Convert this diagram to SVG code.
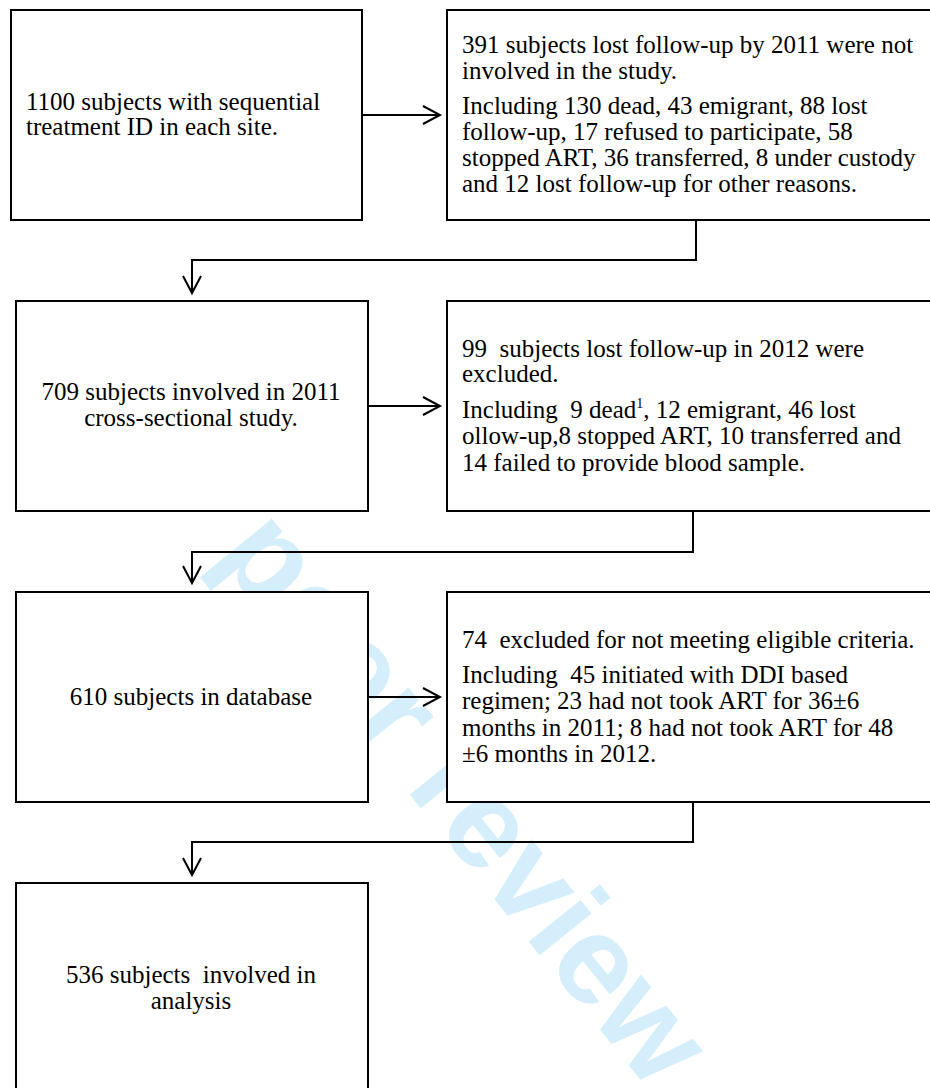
<svg xmlns="http://www.w3.org/2000/svg" width="930" height="1088" viewBox="0 0 930 1088">
<style>
.bx{fill:#fff;stroke:#000;stroke-width:2}
.t{font-family:"Liberation Serif","Times New Roman",serif;font-size:25px;fill:#000;white-space:pre}
.c{text-anchor:middle}
.cn{fill:none;stroke:#000;stroke-width:2}
.wm{font-family:"Liberation Sans",Arial,sans-serif;font-weight:bold;font-size:126px;fill:#d5eefb}
</style>
<defs>
<marker id="ah" viewBox="-19 -11 22 22" refX="0" refY="0" markerWidth="22" markerHeight="22" markerUnits="userSpaceOnUse" orient="auto">
<path d="M-17,-9 L0,0 L-17,9" fill="none" stroke="#000" stroke-width="2"/>
</marker>
</defs>
<rect width="930" height="1088" fill="#fff"/>
<text class="wm" transform="translate(65,369) rotate(51)">For peer review only</text>
<g id="connectors">
<path class="cn" d="M362,115 H440" marker-end="url(#ah)"/>
<path class="cn" d="M696,220 V260 H192 V293" marker-end="url(#ah)"/>
<path class="cn" d="M368,406 H440" marker-end="url(#ah)"/>
<path class="cn" d="M693,511 V552 H192 V583" marker-end="url(#ah)"/>
<path class="cn" d="M368,697 H440" marker-end="url(#ah)"/>
<path class="cn" d="M693,802 V842 H192 V875" marker-end="url(#ah)"/>
</g>
<g id="n1100">
<rect class="bx" x="11" y="10" width="351" height="210"/>
<text class="t" x="26" y="110">1100 subjects with sequential</text>
<text class="t" x="26" y="135">treatment ID in each site.</text>
</g>
<g id="n391">
<rect class="bx" x="447" y="10" width="490" height="210"/>
<text class="t" x="462" y="53">391 subjects lost follow-up by 2011 were not</text>
<text class="t" x="462" y="79">involved in the study.</text>
<text class="t" x="462" y="114">Including 130 dead, 43 emigrant, 88 lost</text>
<text class="t" x="462" y="140">follow-up, 17 refused to participate, 58</text>
<text class="t" x="462" y="166">stopped ART, 36 transferred, 8 under custody</text>
<text class="t" x="462" y="192">and 12 lost follow-up for other reasons.</text>
</g>
<g id="n709">
<rect class="bx" x="16" y="301" width="352" height="210"/>
<text class="t c" x="191" y="400">709 subjects involved in 2011</text>
<text class="t c" x="191" y="426">cross-sectional study.</text>
</g>
<g id="n99">
<rect class="bx" x="447" y="301" width="490" height="210"/>
<text class="t" x="462" y="357">99  subjects lost follow-up in 2012 were</text>
<text class="t" x="462" y="382">excluded.</text>
<text class="t" x="462" y="418">Including  9 dead<tspan font-size="14" dy="-10">1</tspan><tspan dy="10">, 12 emigrant, 46 lost</tspan></text>
<text class="t" x="462" y="444">ollow-up,8 stopped ART, 10 transferred and</text>
<text class="t" x="462" y="471">14 failed to provide blood sample.</text>
</g>
<g id="n610">
<rect class="bx" x="16" y="592" width="352" height="210"/>
<text class="t c" x="191" y="705">610 subjects in database</text>
</g>
<g id="n74">
<rect class="bx" x="447" y="592" width="490" height="210"/>
<text class="t" x="462" y="648">74  excluded for not meeting eligible criteria.</text>
<text class="t" x="462" y="683">Including  45 initiated with DDI based</text>
<text class="t" x="462" y="709">regimen; 23 had not took ART for 36±6</text>
<text class="t" x="462" y="736">months in 2011; 8 had not took ART for 48</text>
<text class="t" x="462" y="762">±6 months in 2012.</text>
</g>
<g id="n536">
<rect class="bx" x="16" y="883" width="352" height="212"/>
<text class="t c" x="191" y="983">536 subjects  involved in</text>
<text class="t c" x="191" y="1009">analysis</text>
</g>
</svg>
